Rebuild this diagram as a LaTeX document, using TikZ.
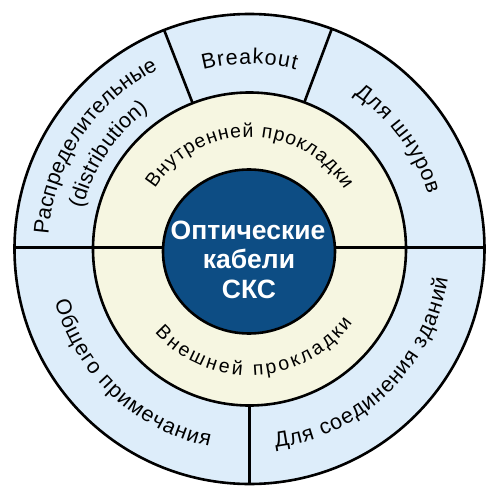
\documentclass[tikz,border=0pt]{standalone}
\usepackage{fontspec}
\setmainfont{Liberation Sans}
\usetikzlibrary{decorations.text}
\definecolor{ringblue}{RGB}{221,237,250}
\definecolor{ringcream}{RGB}{246,246,225}
\definecolor{coreblue}{RGB}{13,77,132}
\tikzset{
  ringline/.style={line width=2.6pt, draw=black},
  coretext/.style={font=\fontsize{26.5}{26.5}\selectfont\bfseries, text=white, inner sep=0pt, anchor=base}
}
% radius, start angle, end angle, font size, text
\newcommand\arctxt[5]{%
  \path[decorate, decoration={text along path, text align={fit to path},
    text={|\fontsize{#4}{#4}\selectfont|#5}}]
    (#2:#1) arc[start angle=#2, end angle=#3, radius=#1];}
\begin{document}
\begin{tikzpicture}[x=1pt, y=1pt]
  \useasboundingbox (-249.5,-252) rectangle (250.5,249);
  \fill[white] (-249.5,-252) rectangle (250.5,249);
  % rings
  \draw[ringline, fill=ringblue] (0,0) circle[radius=235];
  \draw[ringline, fill=ringcream] (0,0) circle[radius=156.5];
  % dividers
  \draw[ringline] (-234.9,1.5) -- (234.9,1.5);
  \draw[ringline] (69.5:156.5) -- (69.5:235);
  \draw[ringline] (111.3:156.5) -- (111.3:235);
  \draw[ringline] (270:156.5) -- (270:235);
  % core
  \draw[ringline, fill=coreblue] (-0.5,-2.5) ellipse[x radius=86, y radius=82];
  \node[coretext] (l1) at (-1.5, 9.5) {Оптические};
  \node[coretext] (l2) at (-0.5, -19.3) {кабели};
  \node[coretext] (l3) at (-0.5, -49.5) {СКС};
  % outer ring texts
  \arctxt{185}{104.5}{75.5}{21.5}{Breakout}
  \arctxt{186.5}{56}{17}{21.5}{Для шнуров}
  \arctxt{201.5}{176}{117}{21.5}{Распределительные}
  \arctxt{171.5}{166.5}{126}{21.5}{(distribution)}
  \arctxt{201.5}{195}{258.5}{21.5}{Общего примечания}
  \arctxt{200.5}{277.5}{351.5}{21.5}{Для соединения зданий}
  % middle ring texts
  \arctxt{112}{147.5}{32}{19.5}{Внутренней прокладки}
  \arctxt{126.5}{221.5}{324.5}{19.5}{Внешней прокладки}
\end{tikzpicture}
\end{document}
